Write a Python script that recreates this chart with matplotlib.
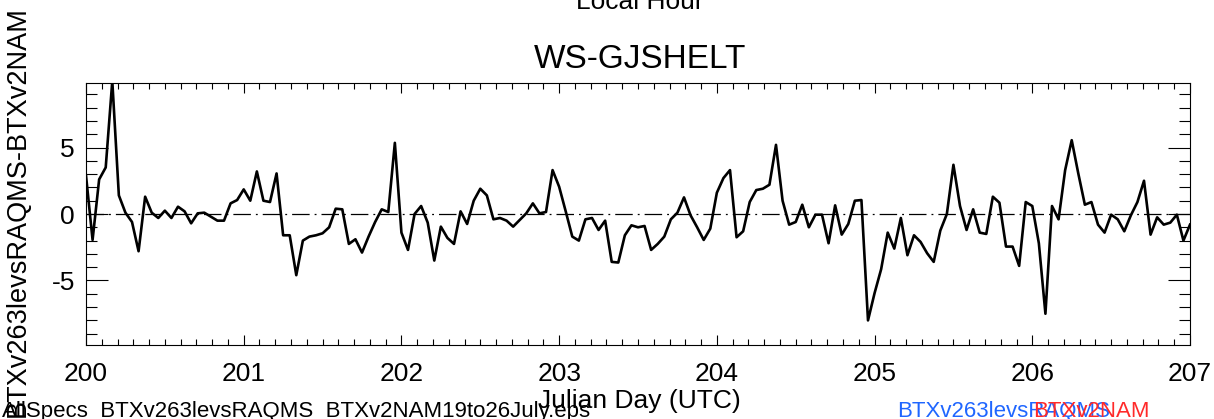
import matplotlib
matplotlib.use("Agg")
import matplotlib.pyplot as plt
import numpy as np
from matplotlib.ticker import MultipleLocator

plt.rcParams['font.family'] = ['Liberation Sans', 'DejaVu Sans']
plt.rcParams['axes.unicode_minus'] = False

# hourly differences, BTXv263levsRAQMS - BTXv2NAM, Julian day 200.0 .. 207.0
diff = [
  2.9, -1.95, 2.6, 3.5, 10.0, 1.4, 0.1, -0.6, -2.8, 1.3, 0.1, -0.3,
  0.25, -0.3, 0.55, 0.2, -0.7, 0.05, 0.1, -0.2, -0.5, -0.5, 0.8, 1.05,
  1.85, 1.0, 3.2, 1.0, 0.9, 3.05, -1.6, -1.6, -4.6, -2.0, -1.7, -1.6,
  -1.45, -1.0, 0.4, 0.35, -2.25, -1.9, -2.9, -1.7, -0.6, 0.35, 0.15, 5.35,
  -1.4, -2.7, 0.0, 0.6, -0.65, -3.5, -0.95, -1.8, -2.25, 0.2, -0.75, 1.0,
  1.9, 1.4, -0.4, -0.3, -0.5, -0.95, -0.45, 0.05, 0.8, 0.05, 0.15, 3.3,
  2.05, 0.2, -1.7, -2.0, -0.4, -0.3, -1.2, -0.5, -3.6, -3.65, -1.6, -0.85,
  -1.0, -0.9, -2.7, -2.25, -1.7, -0.4, 0.1, 1.25, -0.1, -1.0, -1.95, -1.1,
  1.6, 2.7, 3.3, -1.75, -1.3, 0.9, 1.8, 1.9, 2.2, 5.2, 1.0, -0.8,
  -0.6, 0.7, -1.0, -0.05, -0.05, -2.2, 0.65, -1.55, -0.75, 1.0, 1.05, -8.0,
  -5.95, -4.15, -1.4, -2.6, -0.3, -3.1, -1.6, -2.1, -2.95, -3.6, -1.25, 0.0,
  3.7, 0.6, -1.2, 0.35, -1.4, -1.5, 1.3, 0.85, -2.45, -2.45, -3.9, 0.9,
  0.6, -2.2, -7.5, 0.6, -0.4, 3.3, 5.55, 3.05, 0.7, 0.9, -0.8, -1.4,
  -0.05, -0.4, -1.3, -0.1, 0.9, 2.5, -1.55, -0.25, -0.8, -0.65, -0.05, -2.0,
  -0.8,
]
day_start = 200
days = day_start + np.arange(len(diff)) / 24.0
xticks = [200, 201, 202, 203, 204, 205, 206, 207]
yticks = [-5, 0, 5]

fig = plt.figure(figsize=(12.14, 4.19), dpi=100)
ax = fig.add_axes([86/1214, 1 - 345/419, 1104/1214, 262/419])

ax.axhline(0, color='black', lw=0.9, linestyle=(0, (14, 4, 1.5, 4)))
ax.plot(days, diff, color='black', lw=1.9, clip_on=True)

ax.set_xlim(200, 207)
ax.set_ylim(-9.85, 9.85)
ax.set_xticks(xticks)
ax.set_xticklabels([str(t) for t in xticks])
ax.set_yticks(yticks)
ax.set_yticklabels([str(t) for t in yticks])
ax.xaxis.set_minor_locator(MultipleLocator(0.1))
ax.yaxis.set_minor_locator(MultipleLocator(1))
ax.tick_params(axis='both', which='both', direction='in', top=True, right=True,
               color='black', width=0.8, labelsize=19)
ax.tick_params(axis='x', which='major', length=7, pad=12)
ax.tick_params(axis='x', which='minor', length=4)
ax.tick_params(axis='y', which='major', length=16, pad=8)
ax.tick_params(axis='y', which='minor', length=8)
for s in ax.spines.values():
  s.set_linewidth(0.8)

fig.text(0.527, 1 - 60/419, 'WS-GJSHELT', ha='center', va='center', fontsize=24)
fig.text(0.527, 1 - 2/419, 'Local Hour', ha='center', va='center', fontsize=19)
fig.text(0.527, 1 - 401/419, 'Julian Day (UTC)', ha='center', va='center', fontsize=19)
fig.text(18/1214, 1 - 212/419, 'BTXv263levsRAQMS-BTXv2NAM', ha='center', va='center',
         rotation=90, fontsize=19.5)
fig.text(2/1214, 2/419, 'AllSpecs_BTXv263levsRAQMS_BTXv2NAM19to26July.eps',
         ha='left', va='baseline', fontsize=16)
fig.text(897/1214, 2/419, 'BTXv263levsRAQMS', color='#1f66ff', ha='left',
         va='baseline', fontsize=16)
fig.text(1033/1214, 2/419, 'BTXv2NAM', color='#ff2a2a', ha='left',
         va='baseline', fontsize=16)

fig.savefig('out.png', dpi=100)
